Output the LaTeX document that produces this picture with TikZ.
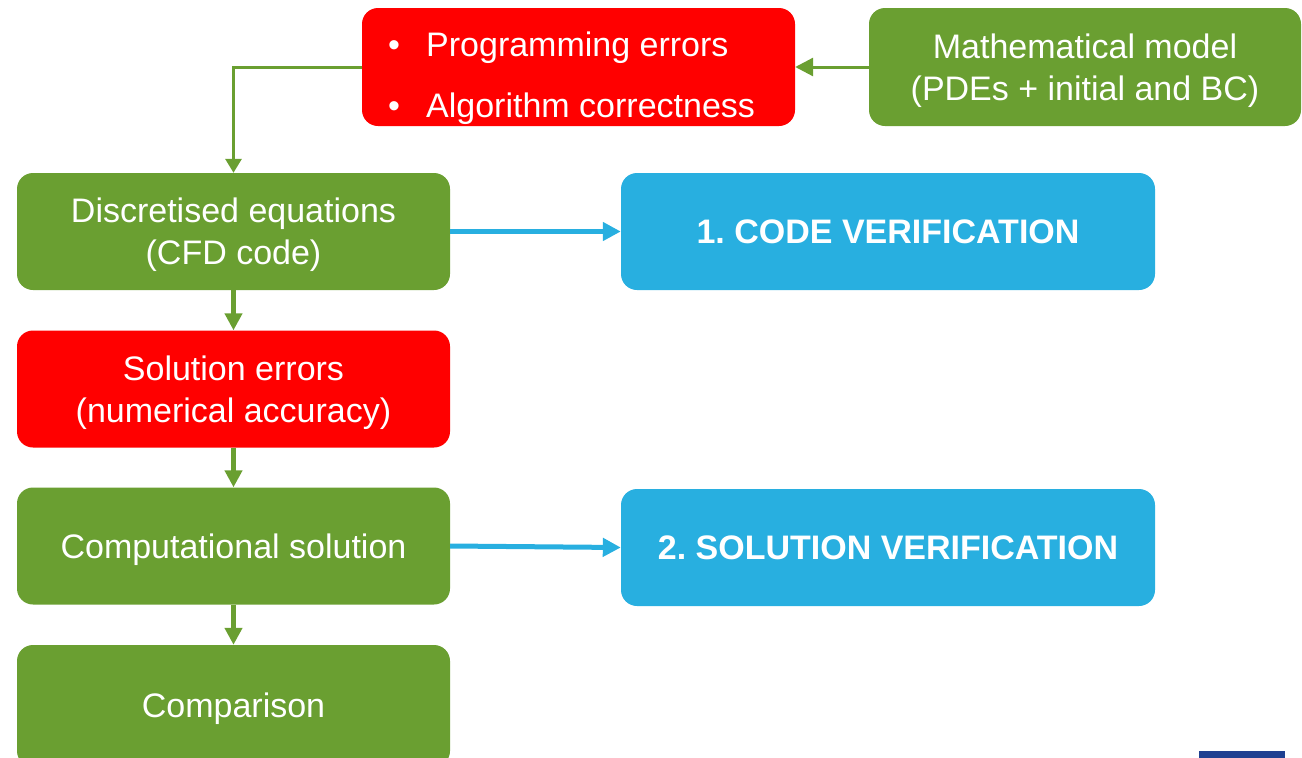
\documentclass[tikz,border=0pt]{standalone}
\usepackage{fontspec}
\setmainfont{Liberation Sans}
\usetikzlibrary{arrows.meta}
\frenchspacing

\definecolor{leaf}{RGB}{106,159,49}
\definecolor{alert}{RGB}{255,0,0}
\definecolor{sky}{RGB}{40,175,224}
\definecolor{navy}{RGB}{31,64,145}

\tikzset{
  card/.style={rectangle, rounded corners=16pt, inner sep=0pt, align=center,
    text=white, text depth=0pt, font=\fontsize{34}{42}\selectfont},
  greencard/.style={card, fill=leaf, minimum width=433pt, minimum height=117pt},
  redcard/.style={card, fill=alert, minimum width=433pt, minimum height=117pt},
  bluecard/.style={card, fill=sky, minimum width=534pt, minimum height=117pt,
    font=\fontsize{34}{42}\selectfont\bfseries},
  itemtext/.style={inner sep=0pt, text=white, font=\fontsize{34}{40}\selectfont},
  thinflow/.style={draw=leaf, line width=3pt, -{Triangle[width=16pt,length=14pt]}},
  flowdown/.style={draw=leaf, line width=5pt, -{Triangle[width=17pt,length=17pt]}},
  flowleft/.style={draw=leaf, line width=3pt, -{Triangle[width=18pt,length=18pt]}},
  flowblue/.style={draw=sky, line width=5pt, -{Triangle[width=18pt,length=18pt]}},
}

\begin{document}
\begin{tikzpicture}[x=1pt, y=-1pt]
  \useasboundingbox (0,0) rectangle (1302,758);
  \clip (0,0) rectangle (1302,758);

  % top row
  \node[redcard, minimum height=118pt] (errs) at (578.5,67) {};
  \node[itemtext, anchor=base] (b1) at (394,56) {\textbullet};
  \node[itemtext, anchor=base west] (t1) at (426,56) {Programming errors};
  \node[itemtext, anchor=base] (b2) at (394,117) {\textbullet};
  \node[itemtext, anchor=base west] (t2) at (426,117) {Algorithm correctness};
  \node[greencard, minimum width=432pt, minimum height=118pt] (model) at (1085,67)
    {Mathematical model\\(PDEs + initial and BC)};

  % left column
  \node[greencard] (disc) at (233.5,231.5) {Discretised equations\\(CFD code)};
  \node[redcard] (solerr) at (233.5,389) {Solution errors\\(numerical accuracy)};
  \node[greencard] (comp) at (233.5,546) {Computational solution};
  \node[greencard, minimum height=122pt] (cmp) at (233.5,706) {};
  \node[text=white, text depth=0pt, inner sep=0pt, font=\fontsize{34}{42}\selectfont]
    (cmptext) at (233.5,705) {Comparison};

  % right column
  \node[bluecard] (codever) at (888,231.5) {1. CODE VERIFICATION};
  \node[bluecard] (solver) at (888,547.5) {2. SOLUTION VERIFICATION};

  % connectors
  \draw[flowleft] (model.west) -- (errs.east);
  \draw[thinflow] (errs.west) -| (disc.north);
  \draw[flowdown] (disc.south) -- (solerr.north);
  \draw[flowdown] (solerr.south) -- (comp.north);
  \draw[flowdown] (comp.south) -- (cmp.north);
  \draw[flowblue] (disc.east) -- (codever.west);
  \draw[flowblue] (comp.east) -- (solver.west);

  % corner mark
  \fill[navy] (1199,751) rectangle (1285,758);
\end{tikzpicture}
\end{document}
